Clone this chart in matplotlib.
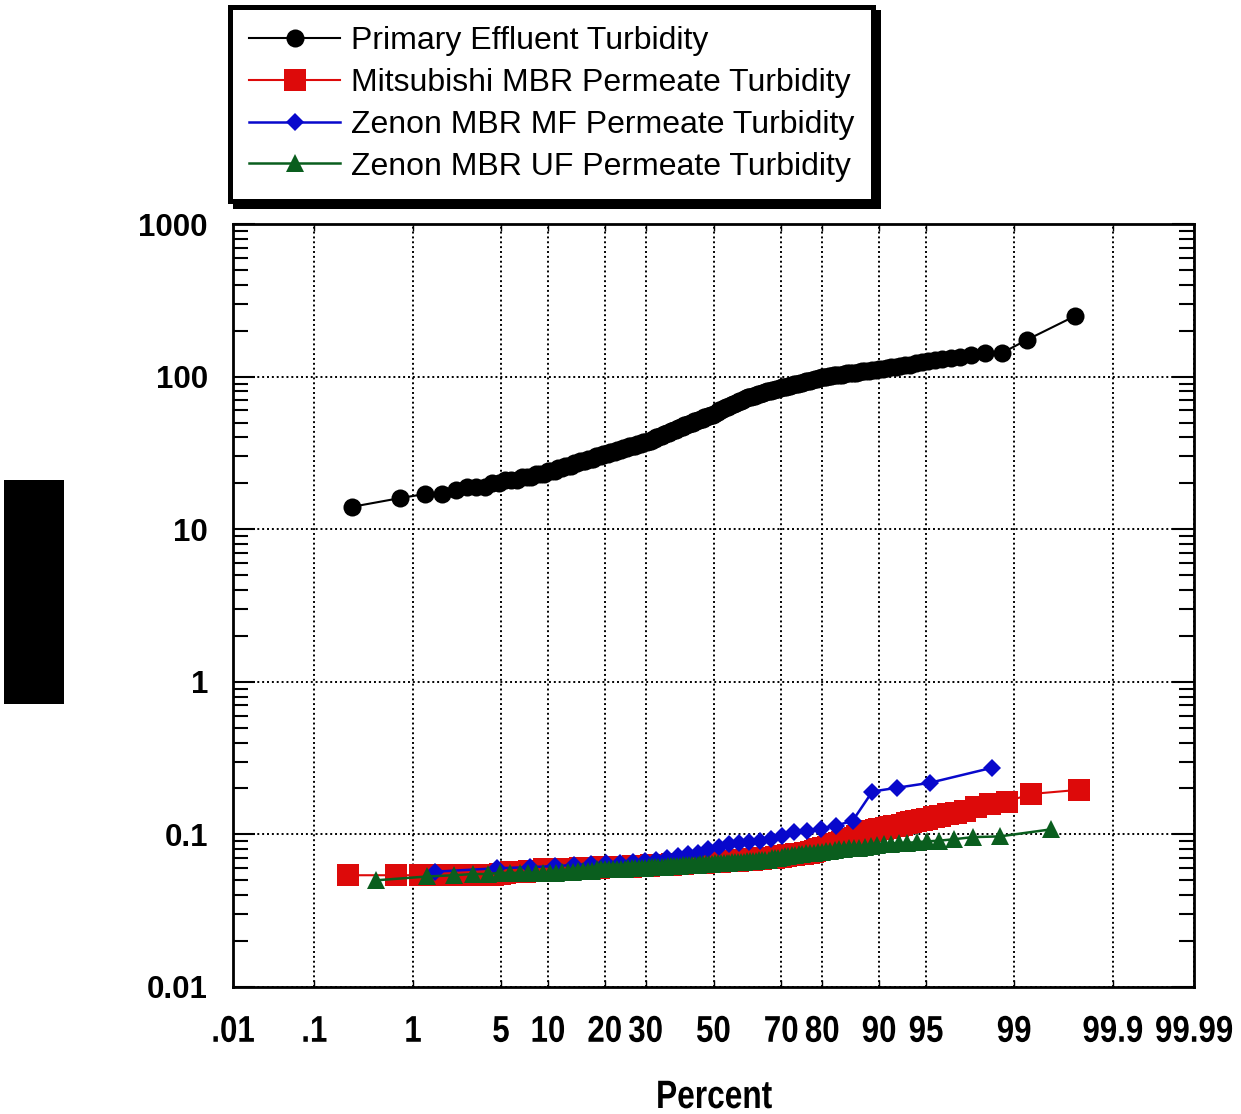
import numpy as np
import matplotlib
matplotlib.use("Agg")
import matplotlib.pyplot as plt
from matplotlib.patches import Rectangle
from matplotlib.patheffects import AbstractPathEffect
from matplotlib.transforms import Affine2D
from matplotlib.ticker import LogLocator, NullFormatter, NullLocator
from statistics import NormalDist

# Sorted turbidity observations (NTU) for each sampling point
primary = [
    14, 16, 17, 17, 18, 19,
    19, 19, 20, 20,
    21, 21, 21, 22, 22, 22, 23, 23, 23, 24,
    24, 24, 25, 25, 26, 26, 26, 27, 27, 28, 28, 28, 29, 29, 29, 30, 30, 30, 31, 31,
    31, 32, 32, 32, 33, 33, 33, 34, 34, 34, 35, 35, 35, 35, 36, 36, 36, 37, 37,
    37, 38, 38, 39, 39, 40, 40, 41, 41, 42, 42, 43, 43, 44, 44, 45, 45, 46, 46, 47,
    47, 48, 48, 49, 49, 50, 50, 51, 51, 52, 52, 53, 53, 54, 54, 55, 55, 56, 56,
    57, 58, 59, 60, 60, 61, 62, 63, 63, 64, 65, 66, 66, 67, 68, 69, 69, 70, 71, 72,
    73, 73, 74, 75, 75, 76, 77, 77, 78, 78, 79, 80, 80, 81, 82, 82, 83, 83, 84,
    85, 85, 86, 87, 87, 88, 89, 89, 90, 91, 91, 92, 93, 93, 94, 95, 96, 97, 98, 99,
    100, 100, 101, 101, 102, 102, 103, 103, 104, 105, 105, 106, 106, 107, 108, 108, 109, 110, 111,
    112, 113, 114, 115, 116, 118, 119, 120, 122, 124,
    126, 128, 130, 132, 134, 138,
    143, 143, 174, 250,
]

mitsubishi = [
    0.054, 0.054, 0.054, 0.054, 0.054, 0.054, 0.054, 0.054, 0.054, 0.054, 0.055,
    0.056, 0.057, 0.057, 0.057, 0.057, 0.058, 0.058,
    0.058, 0.058, 0.059, 0.059, 0.059, 0.059, 0.059, 0.059, 0.059, 0.059, 0.059,
    0.059, 0.059, 0.059, 0.060, 0.060, 0.060,
    0.060, 0.060, 0.060, 0.060, 0.060, 0.060,
    0.061, 0.061, 0.061, 0.061, 0.061, 0.061, 0.061, 0.061, 0.061, 0.061, 0.061,
    0.061, 0.061, 0.061, 0.061, 0.061,
    0.062, 0.062, 0.062, 0.062, 0.062, 0.062,
    0.062, 0.062, 0.062, 0.062,
    0.063, 0.063, 0.063, 0.063, 0.063, 0.063, 0.063, 0.063, 0.063, 0.063, 0.063, 0.063, 0.063,
    0.064, 0.064, 0.064, 0.064,
    0.064, 0.064, 0.064, 0.064,
    0.065, 0.065, 0.065, 0.065, 0.065, 0.065, 0.065, 0.065, 0.065, 0.065, 0.065, 0.065, 0.065, 0.065,
    0.066, 0.066, 0.066, 0.066, 0.066, 0.066,
    0.066, 0.066, 0.066, 0.066,
    0.067, 0.067, 0.067, 0.067, 0.067, 0.067, 0.067, 0.067, 0.067, 0.067, 0.067, 0.067,
    0.068, 0.068, 0.068, 0.068, 0.068,
    0.068, 0.068, 0.068, 0.068,
    0.069, 0.069, 0.069, 0.069, 0.069, 0.069,
    0.070, 0.070, 0.070, 0.070, 0.070, 0.070, 0.070, 0.070,
    0.071, 0.071, 0.071, 0.071,
    0.072, 0.072, 0.072, 0.073, 0.073, 0.073, 0.073,
    0.074, 0.074, 0.074, 0.074, 0.074, 0.075, 0.075, 0.075, 0.077, 0.077,
    0.078, 0.079, 0.080, 0.080, 0.081, 0.082, 0.083, 0.084,
    0.085, 0.086, 0.087, 0.088, 0.089, 0.090, 0.091, 0.092, 0.094,
    0.095, 0.097, 0.099, 0.101,
    0.103, 0.104, 0.106, 0.107, 0.108, 0.109, 0.110, 0.111, 0.113, 0.114, 0.116,
    0.118, 0.120, 0.122, 0.124, 0.127, 0.130,
    0.133, 0.136, 0.139, 0.143,
    0.152, 0.158, 0.164,
    0.184, 0.196,
]

zenon_mf = [
    0.057, 0.060, 0.061, 0.062, 0.063, 0.064, 0.065, 0.065, 0.066, 0.067,
    0.068, 0.070, 0.072, 0.074, 0.076, 0.080, 0.083, 0.086, 0.088, 0.089,
    0.091, 0.094, 0.097, 0.104, 0.105, 0.109, 0.114, 0.123, 0.191, 0.202,
    0.218, 0.273,
]

zenon_uf = [
    0.050, 0.053, 0.054, 0.055, 0.055, 0.056,
    0.056, 0.056, 0.056, 0.056, 0.056, 0.056, 0.056,
    0.057, 0.057, 0.057, 0.058, 0.058, 0.058, 0.058, 0.059, 0.059,
    0.059, 0.059, 0.059, 0.059, 0.059, 0.059, 0.060, 0.060, 0.060, 0.060, 0.060, 0.060,
    0.061, 0.061, 0.061, 0.061, 0.061, 0.061, 0.062, 0.062, 0.062, 0.062, 0.062,
    0.063, 0.063, 0.063, 0.063, 0.063, 0.063, 0.064, 0.064, 0.064, 0.064, 0.064,
    0.065, 0.065, 0.065, 0.065, 0.065, 0.065, 0.066, 0.066, 0.066, 0.066, 0.066,
    0.067, 0.067, 0.067, 0.067, 0.068, 0.068, 0.068, 0.068, 0.070, 0.070, 0.070,
    0.071, 0.072, 0.072, 0.073, 0.073, 0.074, 0.074, 0.075, 0.075, 0.076, 0.077,
    0.077, 0.078, 0.078, 0.079, 0.080, 0.080, 0.081, 0.082, 0.082, 0.083, 0.084,
    0.085, 0.086, 0.087, 0.088, 0.088, 0.089, 0.090, 0.091,
    0.093, 0.096, 0.097, 0.108,
]

series_labels = [
    "Primary Effluent Turbidity",
    "Mitsubishi MBR Permeate Turbidity",
    "Zenon MBR MF Permeate Turbidity",
    "Zenon MBR UF Permeate Turbidity",
]

x_ticks = [0.01, 0.1, 1, 5, 10, 20, 30, 50, 70, 80, 90, 95, 99, 99.9, 99.99]
x_tick_labels = [".01", ".1", "1", "5", "10", "20", "30", "50", "70", "80",
                 "90", "95", "99", "99.9", "99.99"]
y_ticks = [0.01, 0.1, 1, 10, 100, 1000]
y_tick_labels = ["0.01", "0.1", "1", "10", "100", "1000"]

# Normal-probability axis: percent -> standard normal quantile
_nd = NormalDist()
_ppf = np.vectorize(_nd.inv_cdf, otypes=[float])
_cdf = np.vectorize(_nd.cdf, otypes=[float])


def prob_forward(p):
    q = np.clip(np.asarray(p, dtype=float) / 100.0, 1e-9, 1 - 1e-9)
    return _ppf(q)


def prob_inverse(z):
    return _cdf(np.asarray(z, dtype=float)) * 100.0


def plotting_positions(values):
    n = len(values)
    return (np.arange(1, n + 1) - 0.5) / n * 100.0


class Condensed(AbstractPathEffect):
    """Draw text narrower, squeezed horizontally about its own centre."""

    def __init__(self, sx=0.82):
        super().__init__()
        self.sx = sx

    def draw_path(self, renderer, gc, tpath, affine, rgbFace=None):
        ext = tpath.get_extents(affine)
        cx = 0.5 * (ext.x0 + ext.x1)
        squeeze = Affine2D().translate(-cx, 0).scale(self.sx, 1).translate(cx, 0)
        renderer.draw_path(gc, tpath, affine + squeeze, rgbFace)


W, H = 1241, 1114
fig = plt.figure(figsize=(W / 100, H / 100), dpi=100)
ax = fig.add_axes([233 / W, 1 - 987 / H, (1194 - 233) / W, (987 - 224) / H])
ax.set_xscale("function", functions=(prob_forward, prob_inverse))
ax.set_yscale("log")

sans_bold = dict(family=["Liberation Sans", "DejaVu Sans"], weight="bold")

styles = [
    dict(color="black", marker="o", ms=13, lw=1.5),
    dict(color="#DD0A0A", marker="s", ms=15.5, lw=1.5),
    dict(color="#0808CC", marker="D", ms=9.5, lw=1.8),
    dict(color="#0A5E1E", marker="^", ms=13.5, lw=1.8),
]
handles = []
for data, label, st in zip([primary, mitsubishi, zenon_mf, zenon_uf], series_labels, styles):
    vals = np.sort(np.asarray(data, dtype=float))
    h, = ax.plot(plotting_positions(vals), vals, linestyle="-", label=label,
                 markeredgewidth=0, **st)
    handles.append(h)

ax.set_xlim(0.01, 99.99)
ax.set_ylim(0.01, 1000)

ax.set_xticks(x_ticks)
ax.set_xticklabels(x_tick_labels, fontsize=26.8, **sans_bold)
for t in ax.get_xticklabels():
    t.set_path_effects([Condensed(0.84)])
ax.xaxis.set_minor_locator(NullLocator())
ax.set_yticks(y_ticks)
ax.set_yticklabels(y_tick_labels, fontsize=22.5, **sans_bold)
ax.yaxis.set_minor_locator(LogLocator(base=10, subs=range(2, 10), numticks=20))
ax.yaxis.set_minor_formatter(NullFormatter())

ax.tick_params(axis="y", which="major", direction="in", length=16, width=1.5,
               left=True, right=True, pad=18)
ax.tick_params(axis="y", which="minor", direction="in", length=11, width=1.5,
               left=True, right=True)
ax.tick_params(axis="x", which="major", direction="in", length=5, width=1,
               bottom=True, top=True, pad=20)

ax.grid(True, which="major", color="black", linestyle=(0, (1, 1.5)), linewidth=1.4)
ax.set_axisbelow(True)
for sp in ax.spines.values():
    sp.set_linewidth(2)
    sp.set_color("black")

xl = fig.text(714 / W, 1 - 1097 / H, "Percent", ha="center", va="center",
              fontsize=28.5, **sans_bold)
xl.set_path_effects([Condensed(0.8)])

# Filled block beside the value axis
fig.add_artist(Rectangle((4 / W, 1 - 704 / H), 60 / W, 224 / H,
                         transform=fig.transFigure, facecolor="black",
                         edgecolor="none"))

leg = fig.legend(handles=handles, loc="upper left",
                 bbox_to_anchor=(230 / W, 1 - 7 / H), bbox_transform=fig.transFigure,
                 frameon=True, fancybox=False, edgecolor="black", framealpha=1,
                 shadow={"ox": 3.6, "oy": -3.6, "color": "black", "alpha": 1},
                 prop=dict(family=["Liberation Sans", "DejaVu Sans"], size=23.0),
                 handlelength=2.85, handletextpad=0.33, labelspacing=0.37,
                 borderpad=0.6, borderaxespad=0, numpoints=1)
leg.get_frame().set_linewidth(3.6)

fig.savefig("out.png", dpi=100)
